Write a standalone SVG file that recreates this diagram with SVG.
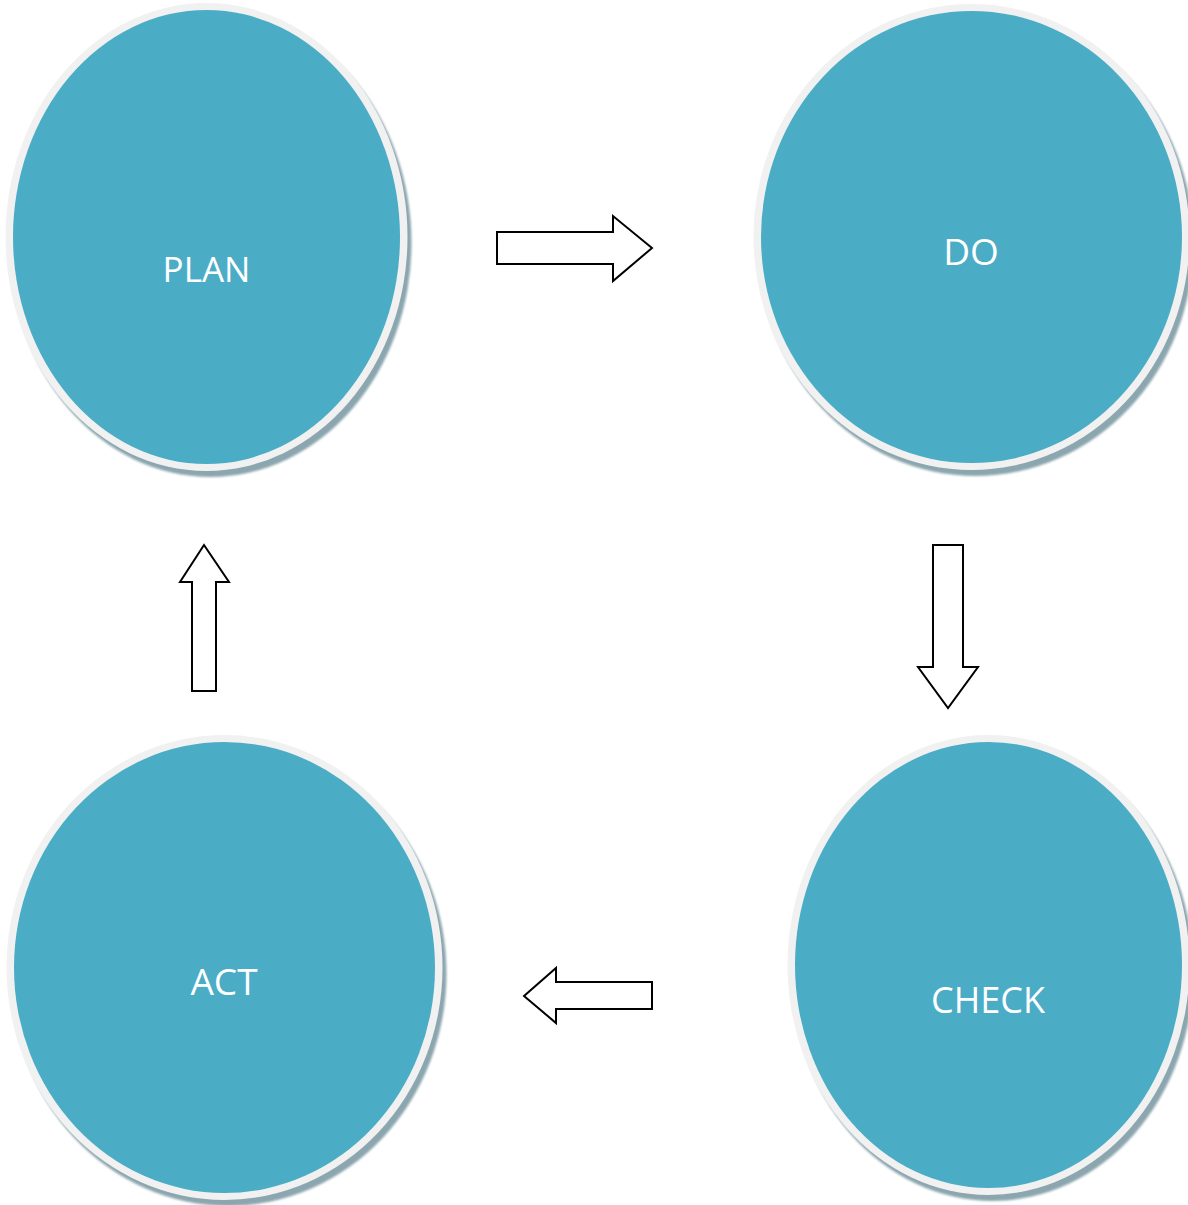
<svg xmlns="http://www.w3.org/2000/svg" width="1188" height="1205" viewBox="0 0 1188 1205">
<style>
.shadow{fill:#8ba6af;filter:url(#blur)}
.ring{fill:#f1f1f1}
.disc{fill:#4bacc6}
.label{font-family:"Open Sans","Noto Sans",sans-serif;fill:#ffffff;text-anchor:middle}
.arrow{fill:#ffffff;stroke:#000000;stroke-width:2;stroke-linejoin:miter}
</style>
<defs>
<filter id="blur" x="-10%" y="-10%" width="120%" height="120%"><feGaussianBlur stdDeviation="0.8"/></filter>
</defs>
<rect width="1188" height="1205" fill="#ffffff"/>
<g id="plan">
<ellipse class="shadow" cx="210.5" cy="243" rx="201" ry="234"/>
<ellipse class="ring" cx="206.5" cy="237" rx="201" ry="234"/>
<ellipse class="disc" cx="206.5" cy="237" rx="193.5" ry="227"/>
<text class="label" x="206.5" y="282" font-size="35">PLAN</text>
</g>
<g id="do">
<ellipse class="shadow" cx="975.5" cy="243" rx="218" ry="233"/>
<ellipse class="ring" cx="971.5" cy="237" rx="218" ry="233"/>
<ellipse class="disc" cx="971.5" cy="237" rx="210.5" ry="226"/>
<text class="label" x="971" y="265" font-size="37">DO</text>
</g>
<g id="check">
<ellipse class="shadow" cx="992.5" cy="971" rx="201" ry="230"/>
<ellipse class="ring" cx="988.5" cy="965" rx="201" ry="230"/>
<ellipse class="disc" cx="988.5" cy="965" rx="193.5" ry="223"/>
<text class="label" x="988" y="1013" font-size="36">CHECK</text>
</g>
<g id="act">
<ellipse class="shadow" cx="228.5" cy="973.5" rx="218" ry="232.5"/>
<ellipse class="ring" cx="224.5" cy="967.5" rx="218" ry="232.5"/>
<ellipse class="disc" cx="224.5" cy="967.5" rx="210.5" ry="225.5"/>
<text class="label" x="224" y="995" font-size="37">ACT</text>
</g>
<g id="connectors">
<polygon class="arrow" points="497,232 613,232 613,216 652,248 613,281 613,264 497,264"/>
<polygon class="arrow" points="933,545 963,545 963,667 978,667 948,708 918,667 933,667"/>
<polygon class="arrow" points="524,996 556,968 556,982 652,982 652,1009 556,1009 556,1023"/>
<polygon class="arrow" points="204,545 229,582 216,582 216,691 192,691 192,582 180,582"/>
</g>
</svg>
